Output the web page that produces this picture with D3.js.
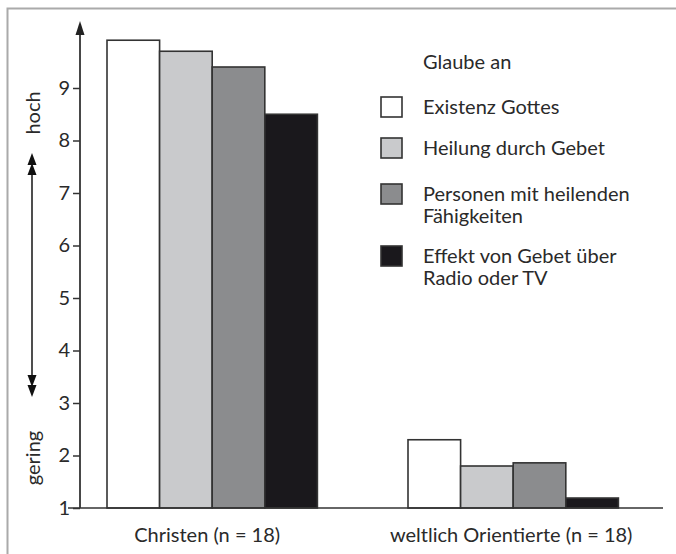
<!DOCTYPE html>
<html><head><meta charset="utf-8">
<script src="https://cdn.jsdelivr.net/npm/d3@7"></script>
<style>body{margin:0;background:#fff}svg{display:block}text{font-family:"Lato","Open Sans",sans-serif;fill:#2a2a2a}</style>
</head><body><script>
const groups = ["Christen (n = 18)", "weltlich Orientierte (n = 18)"];
const series = ["Existenz Gottes", "Heilung durch Gebet", "Personen mit heilenden|Fähigkeiten", "Effekt von Gebet über|Radio oder TV"];
const colors = ["#ffffff", "#c9cacc", "#8b8c8e", "#1a181c"];
const christen = [9.91, 9.70, 9.40, 8.50];
const weltlich = [2.30, 1.80, 1.86, 1.19];
const yTicks = [1, 2, 3, 4, 5, 6, 7, 8, 9];
const legendTitle = "Glaube an";

const W = 676, H = 554;
const FS = "20px";
const svg = d3.select("body").append("svg").attr("width", W).attr("height", H);

// frame
svg.append("path").attr("d", `M7.5,${H} V8.5 H${W}`).attr("fill","none").attr("stroke","#aaa").attr("stroke-width",2);

const y = d3.scaleLinear().domain([1, 9]).range([508, 88]);
const groupX = {[groups[0]]: 107, [groups[1]]: 408};
const bw = 52.6;
const data = [christen, weltlich];

// bars
data.forEach((vals, gi) => {
  const gx = groupX[groups[gi]];
  const xb = d3.scaleBand().domain(d3.range(4)).range([gx, gx + 4 * bw]).padding(0);
  svg.append("g").selectAll("rect").data(vals).join("rect")
    .attr("x", (d, i) => xb(i)).attr("width", xb.bandwidth())
    .attr("y", d => y(d)).attr("height", d => y(1) - y(d))
    .attr("fill", (d, i) => colors[i]).attr("stroke", "#333").attr("stroke-width", 1.6);
});

// y axis
const ax = svg.append("g").attr("transform", "translate(80,0)")
  .call(d3.axisLeft(y).tickValues(yTicks).tickSize(7).tickPadding(3).tickFormat(d3.format("d")));
ax.select(".domain").remove();
ax.selectAll("line").attr("stroke", "#333").attr("stroke-width", 1.5);
ax.selectAll("text").style("font-size", FS).attr("fill", "#2a2a2a");
svg.append("line").attr("x1", 80).attr("x2", 80).attr("y1", 508).attr("y2", 34).attr("stroke", "#333").attr("stroke-width", 1.8);
svg.append("path").attr("d", "M80,21 L75.5,35 L84.5,35 Z").attr("fill", "#222");

// baseline
svg.append("line").attr("x1", 68).attr("x2", 663).attr("y1", 508).attr("y2", 508).attr("stroke", "#333").attr("stroke-width", 1.6);

// x labels
svg.selectAll(".xl").data(groups).join("text").attr("class", "xl")
  .attr("x", (d, i) => groupX[d] + 2 * bw - (i === 0 ? 5 : 2)).attr("y", 542)
  .attr("text-anchor", "middle").style("font-size", FS).text(d => d);

// side labels
svg.append("text").attr("transform", "translate(40,113) rotate(-90)").attr("text-anchor", "middle").style("font-size", FS).text("hoch");
svg.append("text").attr("transform", "translate(40,458) rotate(-90)").attr("text-anchor", "middle").style("font-size", FS).text("gering");

// double arrow
svg.append("line").attr("x1", 32).attr("x2", 32).attr("y1", 170).attr("y2", 380).attr("stroke", "#222").attr("stroke-width", 1.6);
[[153, 1], [163, 1], [397, -1], [387, -1]].forEach(([ty, dir]) => {
  svg.append("path").attr("d", `M32,${ty} L27.5,${ty + dir * 12} L36.5,${ty + dir * 12} Z`).attr("fill", "#111");
});

// legend
svg.append("text").attr("x", 423).attr("y", 69).style("font-size", FS).text(legendTitle);
const ly = [107, 148, 194, 256];
series.forEach((s, i) => {
  svg.append("rect").attr("x", 381).attr("y", ly[i] - 10).attr("width", 21).attr("height", 20)
    .attr("fill", colors[i]).attr("stroke", "#333").attr("stroke-width", 1.6);
  const t = svg.append("text").attr("x", 423).attr("y", ly[i] + 7).style("font-size", FS);
  s.split("|").forEach((ln, k) => t.append("tspan").attr("x", 423).attr("dy", k ? 22 : 0).text(ln));
});
</script></body></html>
